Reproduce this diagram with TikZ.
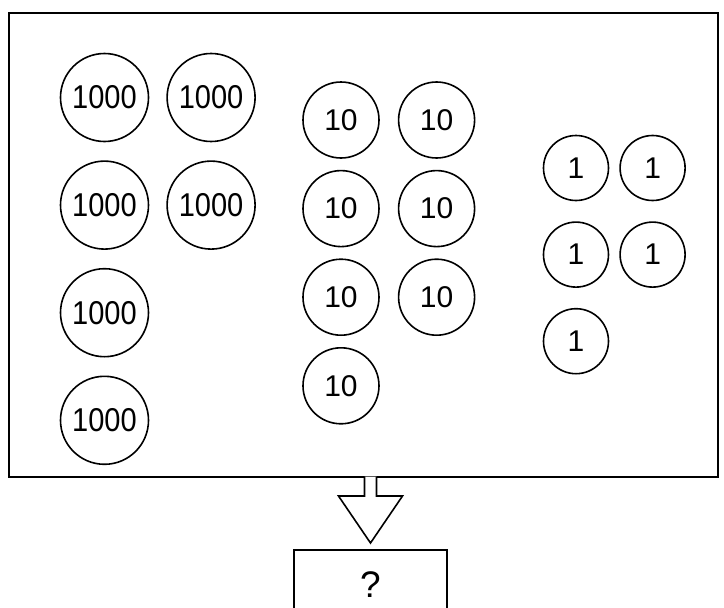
\documentclass[tikz,border=0pt]{standalone}
\usepackage{fontspec}
\setmainfont{Liberation Sans}
\newfontfamily\narrowfont[FakeStretch=0.88]{Liberation Sans}
\usetikzlibrary{positioning, calc}

\begin{document}
\begin{tikzpicture}
            [x=1pt, y=-1pt, line width=1.6pt,
            coin/.style={circle, draw=black, inner sep=0pt, font=\fontsize{30}{32}\selectfont},
            bigcoin/.style={coin, minimum size=88pt, font=\narrowfont\fontsize{33}{35}\selectfont},
            midcoin/.style={coin, minimum size=76pt},
            smallcoin/.style={coin, minimum size=65pt},
            frame/.style={rectangle, draw=black, inner sep=0pt}]

            \clip (0,0) rectangle (724,608);

            \node[frame, minimum width=709pt, minimum height=464pt, anchor=north west] (board) at (8,12) {};
            \node[frame, minimum width=153pt, minimum height=70pt, anchor=north,
                  font=\fontsize{37}{40}\selectfont] (result) at (370.5,549) {?};

            \node[bigcoin] (th1) at (104.5,97.5) {1000};
            \node[bigcoin] (th2) [right = 17pt of th1] {1000};
            \node[bigcoin] (th3) [below = 18pt of th1] {1000};
            \node[bigcoin] (th4) [right = 17pt of th3] {1000};
            \node[bigcoin] (th5) [below = 18pt of th3] {1000};
            \node[bigcoin] (th6) [below = 18pt of th5] {1000};

            \node[midcoin] (te1) at (341,120) {10};
            \node[midcoin] (te2) [right = 18pt of te1] {10};
            \node[midcoin] (te3) [below = 11pt of te1] {10};
            \node[midcoin] (te4) [right = 18pt of te3] {10};
            \node[midcoin] (te5) [below = 11pt of te3] {10};
            \node[midcoin] (te6) [right = 18pt of te5] {10};
            \node[midcoin] (te7) [below = 11pt of te5] {10};

            \node[smallcoin] (on1) at (576,168) {1};
            \node[smallcoin] (on2) [right = 10pt of on1] {1};
            \node[smallcoin] (on3) [below = 20pt of on1] {1};
            \node[smallcoin] (on4) [right = 10pt of on3] {1};
            \node[smallcoin] (on5) [below = 20pt of on3] {1};

            \coordinate (tip) at ([yshift=6pt]result.north);
            \draw[fill=white] ($(tip |- board.south)+(-6,-1)$) |- ($(tip)+(-32,-47)$) -- (tip)
                -- ($(tip)+(32,-47)$) -| ($(tip |- board.south)+(6,-1)$);

          \end{tikzpicture}
\end{document}
